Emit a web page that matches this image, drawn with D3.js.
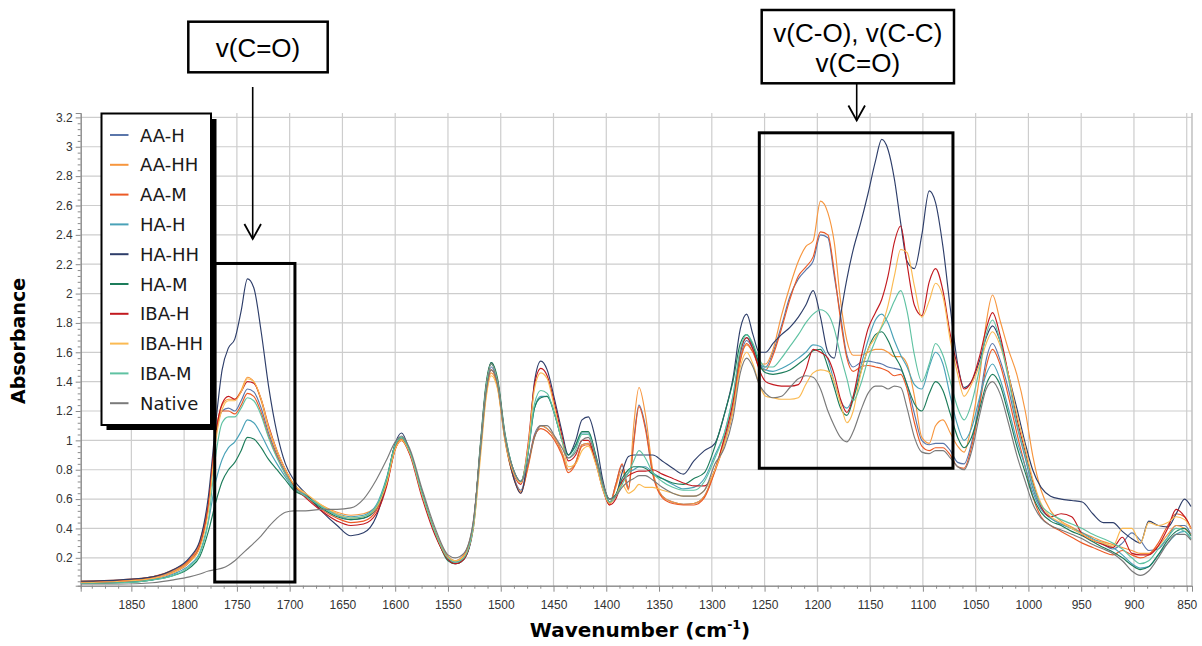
<!DOCTYPE html>
<html><head><meta charset="utf-8">
<script src="https://cdn.jsdelivr.net/npm/d3@7"></script>
<style>body{margin:0;background:#fff;} svg{display:block;}</style>
</head><body><svg id="c" width="1202" height="646"></svg>
<script>
// ---- data (wavenumber grid shared by all spectra) ----
const wavenumbers = [
 1898,1860,1830,1810,1795,1785,1777,1770,1764,1758,1752,1746,1740,1734,1727,1720,1712,1704,1696,
 1685,1670,1655,1642,1630,1618,1608,1600,1594,1586,1575,1562,
 1550,1543,1535,1526,1519,1514,1509,1503,1496,1488,1481,1474,1468,1462,1456,1449,1442,1436,1429,1423,1417,1410,1403,1397,1391,1385,1379,1374,1369,1363,1356,1347,1337,1327,1317,1307,1297,
 1288,1280,1273,1267,1261,1255,1249,
 1242,1234,1226,1218,1211,1204,1197,1190,1184,1178,1172,1166,1159,1152,1145,1139,1133,1127,1121,1115,1108,1101,1094,1088,1081,1074,
 1067,1061,1054,1046,1040,1034,1027,1019,1011,1003,996,988,979,969,959,949,939,929,920,911,902,894,886,877,868,860,852,846
];
const AA_H = [
 .04,.045,.07,.11,.18,.29,.55,1.03,1.20,1.22,1.20,1.27,1.35,1.33,1.22,1.05,.90,.78,.69,
 .63,.55,.49,.46,.47,.53,.71,.95,1.01,.92,.65,.37,
 .21,.18,.22,.44,.96,1.32,1.50,1.38,1.02,.76,.66,.84,1.04,1.10,1.08,1.02,.92,.80,.85,.97,.98,.86,.68,.57,.70,.83,.68,1.00,1.24,1.10,.78,.62,.58,.565,.57,.62,.80,
 1.00,1.22,1.56,1.68,1.62,1.52,1.50,
 1.60,1.78,1.98,2.10,2.16,2.22,2.40,2.38,2.12,1.85,1.58,1.50,1.53,1.54,1.53,1.52,1.50,1.49,1.48,1.38,1.18,1.00,.97,.98,.98,.93,
 .85,.84,.98,1.28,1.55,1.66,1.55,1.35,1.10,.88,.68,.54,.47,.43,.40,.36,.32,.29,.26,.30,.37,.32,.25,.26,.34,.42,.42,.36
];
const AA_HH = [
 .04,.045,.07,.11,.18,.29,.55,1.05,1.24,1.28,1.28,1.34,1.43,1.40,1.27,1.08,.92,.80,.70,
 .63,.56,.51,.49,.50,.55,.72,.95,1.01,.92,.66,.38,
 .21,.18,.22,.44,.95,1.30,1.46,1.36,1.00,.75,.65,.82,1.02,1.10,1.08,1.02,.92,.80,.85,.97,.98,.86,.68,.57,.68,.80,.66,1.10,1.36,1.18,.80,.62,.58,.565,.57,.62,.80,
 1.02,1.25,1.55,1.65,1.60,1.52,1.52,
 1.62,1.85,2.05,2.22,2.32,2.36,2.63,2.55,2.35,1.95,1.68,1.58,1.58,1.60,1.62,1.62,1.60,1.57,1.57,1.52,1.30,1.02,.98,1.10,1.14,1.05,
 .96,.92,1.10,1.45,1.80,1.99,1.82,1.62,1.45,1.20,.90,.66,.52,.45,.41,.37,.34,.31,.29,.27,.25,.23,.23,.28,.36,.42,.40,.36
];
const AA_M = [
 .04,.05,.07,.12,.19,.31,.58,1.05,1.20,1.20,1.18,1.24,1.32,1.30,1.19,1.03,.89,.77,.68,
 .62,.53,.47,.44,.45,.52,.70,.94,1.00,.91,.64,.36,
 .20,.17,.21,.43,.96,1.32,1.48,1.37,1.01,.75,.64,.83,1.03,1.08,1.06,1.00,.90,.78,.84,.96,.97,.85,.67,.56,.70,.84,.67,.98,1.23,1.08,.77,.61,.57,.56,.56,.61,.79,
 .98,1.20,1.54,1.66,1.60,1.50,1.48,
 1.58,1.76,1.96,2.12,2.18,2.25,2.42,2.40,2.15,1.82,1.56,1.47,1.50,1.51,1.50,1.49,1.47,1.44,1.45,1.35,1.12,.96,.93,.95,.95,.90,
 .82,.81,.95,1.25,1.50,1.62,1.52,1.30,1.05,.82,.62,.48,.42,.38,.34,.30,.27,.24,.22,.25,.22,.20,.22,.30,.42,.50,.48,.40
];
const HA_H = [
 .03,.035,.05,.09,.15,.24,.45,.72,.87,.95,.99,1.06,1.14,1.12,1.04,.94,.84,.75,.67,
 .63,.55,.50,.48,.49,.56,.75,.97,1.02,.92,.65,.37,
 .19,.17,.20,.42,.98,1.36,1.52,1.40,1.04,.80,.72,.92,1.22,1.30,1.30,1.18,1.00,.90,.96,1.05,1.05,.90,.70,.60,.63,.72,.78,.80,.82,.82,.78,.74,.70,.67,.68,.74,.90,
 1.05,1.30,1.60,1.70,1.64,1.52,1.48,
 1.47,1.49,1.52,1.56,1.60,1.65,1.64,1.55,1.40,1.27,1.22,1.30,1.50,1.68,1.82,1.86,1.80,1.68,1.58,1.50,1.38,1.35,1.50,1.60,1.52,1.30,
 1.10,1.00,1.08,1.30,1.45,1.52,1.42,1.22,1.00,.82,.65,.53,.47,.43,.40,.37,.33,.30,.27,.22,.16,.13,.14,.22,.30,.36,.38,.33
];
const HA_HH = [
 .04,.05,.07,.12,.20,.32,.62,1.12,1.48,1.63,1.69,1.88,2.10,2.04,1.74,1.37,1.05,.84,.73,
 .64,.52,.42,.35,.37,.48,.72,.98,1.05,.92,.65,.36,
 .19,.16,.19,.40,.95,1.35,1.53,1.40,1.02,.75,.64,.92,1.40,1.54,1.48,1.28,1.06,.90,1.00,1.14,1.16,1.00,.72,.58,.62,.78,.89,.90,.90,.90,.90,.86,.81,.77,.86,.93,.98,
 1.18,1.42,1.76,1.86,1.72,1.60,1.60,
 1.66,1.72,1.77,1.84,1.92,2.02,1.84,1.60,1.56,1.85,2.10,2.30,2.48,2.68,2.90,3.05,2.98,2.78,2.48,2.22,2.17,2.40,2.70,2.62,2.32,1.90,
 1.52,1.36,1.40,1.55,1.70,1.78,1.68,1.45,1.22,.98,.80,.68,.62,.60,.59,.58,.50,.44,.44,.38,.33,.30,.45,.42,.41,.50,.60,.55
];
const HA_M = [
 .025,.03,.05,.08,.13,.21,.38,.58,.72,.80,.85,.93,1.02,1.01,.95,.87,.80,.73,.66,
 .62,.54,.48,.46,.47,.54,.74,.97,1.02,.92,.65,.37,
 .18,.16,.19,.42,1.00,1.38,1.53,1.42,1.05,.80,.72,.93,1.22,1.29,1.30,1.18,1.00,.90,.97,1.06,1.06,.90,.70,.60,.63,.74,.80,.82,.82,.81,.77,.74,.71,.70,.74,.78,.96,
 1.18,1.40,1.66,1.72,1.65,1.52,1.46,
 1.45,1.46,1.48,1.52,1.56,1.61,1.62,1.50,1.36,1.22,1.17,1.28,1.46,1.62,1.72,1.74,1.68,1.58,1.50,1.38,1.25,1.20,1.32,1.40,1.34,1.18,
 1.02,.95,1.02,1.22,1.38,1.45,1.38,1.18,.96,.78,.62,.51,.45,.42,.38,.35,.31,.27,.24,.20,.15,.12,.14,.22,.32,.38,.40,.35
];
const IBA_H = [
 .03,.04,.06,.10,.17,.28,.55,1.05,1.25,1.30,1.28,1.33,1.40,1.39,1.28,1.10,.93,.80,.69,
 .61,.52,.45,.42,.43,.50,.69,.94,1.00,.90,.62,.35,
 .19,.16,.19,.42,.98,1.36,1.52,1.40,1.03,.78,.70,.98,1.38,1.49,1.44,1.25,1.03,.86,.90,1.00,1.00,.85,.66,.56,.60,.72,.76,.78,.79,.79,.80,.77,.74,.71,.69,.69,.80,
 1.02,1.26,1.60,1.70,1.62,1.48,1.40,
 1.38,1.37,1.37,1.38,1.48,1.62,1.60,1.56,1.45,1.28,1.19,1.30,1.55,1.76,1.87,1.96,2.12,2.35,2.46,2.20,1.92,1.85,2.08,2.17,2.02,1.72,
 1.50,1.35,1.40,1.58,1.76,1.87,1.72,1.45,1.15,.92,.72,.55,.48,.50,.48,.36,.32,.29,.27,.34,.23,.22,.22,.28,.40,.53,.48,.40
];
const IBA_HH = [
 .03,.04,.06,.10,.17,.27,.52,1.00,1.21,1.27,1.27,1.33,1.42,1.40,1.28,1.09,.93,.80,.70,
 .64,.56,.50,.47,.48,.54,.71,.94,1.00,.91,.64,.37,
 .20,.18,.21,.40,.90,1.28,1.44,1.35,1.00,.78,.71,.96,1.35,1.46,1.42,1.22,1.00,.82,.84,.93,.96,.84,.66,.57,.62,.70,.64,.66,.70,.68,.68,.66,.64,.62,.62,.66,.80,
 .98,1.20,1.50,1.60,1.52,1.38,1.30,
 1.29,1.28,1.28,1.29,1.38,1.46,1.48,1.47,1.40,1.25,1.12,1.20,1.45,1.62,1.70,1.78,1.92,2.12,2.30,2.28,2.05,1.84,1.95,2.07,1.98,1.68,
 1.45,1.30,1.38,1.52,1.66,1.74,1.65,1.45,1.18,.95,.74,.57,.48,.44,.40,.36,.32,.30,.28,.40,.40,.30,.44,.42,.44,.48,.46,.40
];
const IBA_M = [
 .025,.03,.05,.08,.14,.23,.45,.90,1.12,1.16,1.16,1.22,1.29,1.27,1.17,1.02,.88,.77,.68,
 .62,.55,.49,.47,.48,.55,.74,.97,1.02,.92,.65,.37,
 .20,.17,.20,.42,.98,1.36,1.52,1.40,1.04,.80,.72,.92,1.25,1.34,1.32,1.18,1.00,.88,.94,1.04,1.04,.88,.68,.58,.62,.70,.78,.86,.93,.88,.78,.72,.68,.66,.66,.72,.88,
 1.05,1.30,1.62,1.72,1.66,1.55,1.50,
 1.50,1.56,1.64,1.72,1.80,1.86,1.89,1.86,1.76,1.58,1.42,1.27,1.38,1.55,1.68,1.77,1.85,1.95,2.02,1.88,1.58,1.40,1.52,1.66,1.58,1.40,
 1.22,1.14,1.25,1.50,1.72,1.82,1.68,1.42,1.12,.90,.70,.56,.50,.46,.43,.40,.36,.33,.30,.26,.20,.16,.18,.26,.34,.40,.38,.33
];
const NATIVE = [
 .02,.02,.03,.05,.07,.09,.11,.12,.13,.15,.18,.22,.26,.30,.35,.41,.47,.51,.52,
 .52,.53,.53,.54,.60,.73,.87,.99,1.03,.94,.68,.40,
 .22,.20,.23,.45,.95,1.32,1.48,1.38,1.02,.80,.72,.85,1.02,1.10,1.10,1.03,.95,.88,.92,1.00,1.02,.88,.70,.60,.62,.68,.72,.74,.76,.76,.73,.68,.64,.62,.62,.66,.84,
 .95,1.15,1.46,1.56,1.50,1.38,1.32,
 1.29,1.30,1.36,1.42,1.44,1.43,1.35,1.20,1.10,1.02,.99,1.06,1.20,1.32,1.37,1.37,1.35,1.37,1.36,1.22,1.02,.92,.91,.93,.93,.88,
 .82,.80,.92,1.18,1.35,1.40,1.32,1.12,.90,.72,.57,.47,.42,.39,.36,.33,.29,.26,.23,.18,.11,.08,.11,.20,.30,.36,.36,.32
];
const seriesNames  = ["AA-H","AA-HH","AA-M","HA-H","HA-HH","HA-M","IBA-H","IBA-HH","IBA-M","Native"];
const seriesValues = [AA_H, AA_HH, AA_M, HA_H, HA_HH, HA_M, IBA_H, IBA_HH, IBA_M, NATIVE];
const seriesColors = ["#5a76aa","#f7963e","#ec5a26","#4aa2b8","#2e3e6a","#1c7c5a","#c2191f","#fbba52","#5fc2a2","#7a7a7a"];
const xTickValues = [1850,1800,1750,1700,1650,1600,1550,1500,1450,1400,1350,1300,1250,1200,1150,1100,1050,1000,950,900,850];
const yTickValues = [0.2,0.4,0.6,0.8,1,1.2,1.4,1.6,1.8,2,2.2,2.4,2.6,2.8,3,3.2];
// highlighted regions: [wavenumber from, wavenumber to, absorbance low, absorbance high]
const regions = [[1771,1695,0.035,2.205],[1255,1071.5,0.81,3.095]];
const regionLabels = [["v(C=O)"],["v(C-O), v(C-C)","v(C=O)"]];

seriesValues.forEach((s,i)=>{ if(s.length!==wavenumbers.length) throw new Error(seriesNames[i]+" length "+s.length+" vs "+wavenumbers.length); });

// ---- chart ----
const svg = d3.select("#c");
const L=80.7, R=1192, T=113, B=585.7;
const x = d3.scaleLinear().domain([1898,845]).range([L,R]);
const y = d3.scaleLinear().domain([0.01,3.23]).range([B,T]);
const gridCol="#cdcdcd";

const grid = svg.append("g");
grid.selectAll("line.v").data(xTickValues).join("line")
  .attr("x1",d=>x(d)).attr("x2",d=>x(d)).attr("y1",T).attr("y2",B)
  .attr("stroke",gridCol).attr("stroke-width",1.2);
grid.selectAll("line.h").data(yTickValues).join("line")
  .attr("x1",L).attr("x2",R).attr("y1",d=>y(d)).attr("y2",d=>y(d))
  .attr("stroke",gridCol).attr("stroke-width",1.2);
grid.append("line").attr("x1",R).attr("x2",R).attr("y1",T).attr("y2",B).attr("stroke","#c4c4c4").attr("stroke-width",1.6);

// axes
const xMinor = d3.range(1887.5, 845, -12.5).filter(v=>!xTickValues.includes(v));
const gx = svg.append("g").attr("transform",`translate(0,${B})`);
gx.call(d3.axisBottom(x).tickValues(xTickValues).tickSize(6).tickPadding(9).tickFormat(d3.format("d")));
gx.append("g").call(d3.axisBottom(x).tickValues(xMinor).tickSize(3).tickFormat(""));
gx.selectAll(".domain").attr("stroke","#8a8a8a");
gx.selectAll("line").attr("stroke","#8a8a8a");
gx.selectAll("text").attr("font-family","'Liberation Sans',Arial,sans-serif").attr("font-size","12px").attr("fill","#333");

const yMinor = d3.range(0.04,3.23,0.04).map(v=>+v.toFixed(2)).filter(v=>Math.abs(v/0.2-Math.round(v/0.2))>1e-6);
const gy = svg.append("g").attr("transform",`translate(${L},0)`);
gy.call(d3.axisLeft(y).tickValues(yTickValues).tickSize(5).tickPadding(3).tickFormat(d=>d3.format("")(d)));
gy.append("g").call(d3.axisLeft(y).tickValues(yMinor).tickSize(3).tickFormat(""));
gy.selectAll(".domain").attr("stroke","#8a8a8a");
gy.selectAll("line").attr("stroke","#8a8a8a");
gy.selectAll("text").attr("font-family","'Liberation Sans',Arial,sans-serif").attr("font-size","12px").attr("fill","#333");

// spectra
svg.append("clipPath").attr("id","clip").append("rect").attr("x",L).attr("y",T-2).attr("width",R-L).attr("height",B-T+1);
const line = d3.line().x(d=>x(d[0])).y(d=>y(d[1])).curve(d3.curveMonotoneX);
const gl = svg.append("g").attr("clip-path","url(#clip)");
seriesValues.forEach((s,i)=>{
  gl.append("path").datum(wavenumbers.map((w,k)=>[w,s[k]]))
    .attr("d",line).attr("fill","none").attr("stroke",seriesColors[i]).attr("stroke-width",1.15);
});

// axis titles
svg.append("text").attr("x",640).attr("y",637).attr("text-anchor","middle")
  .attr("font-family","'DejaVu Sans',Verdana,sans-serif").attr("font-weight","bold").attr("font-size","20px").attr("fill","#000")
  .call(t=>{ t.append("tspan").text("Wavenumber (cm");
             t.append("tspan").attr("font-size","12.5px").attr("dy","-8").text("-1");
             t.append("tspan").attr("dy","8").text(")"); });
svg.append("text").attr("transform","translate(25,341) rotate(-90)").attr("text-anchor","middle")
  .attr("font-family","'DejaVu Sans',Verdana,sans-serif").attr("font-weight","bold").attr("font-size","19px").attr("fill","#000")
  .text("Absorbance");

// highlighted regions
regions.forEach(r=>{
  svg.append("rect").attr("x",x(r[0])).attr("y",y(r[3])).attr("width",x(r[1])-x(r[0])).attr("height",y(r[2])-y(r[3]))
    .attr("fill","none").attr("stroke","#000").attr("stroke-width",3);
});

// annotation label boxes with arrows
const ann = [
  {box:[188.3,21.7,139.4,50.6], lines:regionLabels[0], base:[57], ax:252.7, ay1:87, ay2:239},
  {box:[761.7,10,192.3,73.3], lines:regionLabels[1], base:[42,72], ax:856.7, ay1:84, ay2:120.5}
];
ann.forEach(a=>{
  svg.append("rect").attr("x",a.box[0]).attr("y",a.box[1]).attr("width",a.box[2]).attr("height",a.box[3])
    .attr("fill","#fff").attr("stroke","#000").attr("stroke-width",2.5);
  a.lines.forEach((t,i)=>svg.append("text").attr("x",a.box[0]+a.box[2]/2).attr("y",a.base[i]).attr("text-anchor","middle")
    .attr("font-family","'Liberation Sans',Arial,sans-serif").attr("font-size","26px").attr("fill","#000").text(t));
  svg.append("line").attr("x1",a.ax).attr("x2",a.ax).attr("y1",a.ay1).attr("y2",a.ay2).attr("stroke","#000").attr("stroke-width",1.6);
  svg.append("path").attr("d",`M${a.ax-8.3},${a.ay2-15}L${a.ax},${a.ay2}L${a.ax+8.3},${a.ay2-15}`)
    .attr("fill","none").attr("stroke","#000").attr("stroke-width",1.8);
});

// legend
const lg = svg.append("g");
lg.append("rect").attr("x",106.5).attr("y",119).attr("width",110).attr("height",311).attr("fill","#000");
lg.append("rect").attr("x",101.5).attr("y",113.5).attr("width",109.5).attr("height",311.5).attr("fill","#fff").attr("stroke","#000").attr("stroke-width",2);
seriesNames.forEach((n,i)=>{
  const cy = 135 + i*29.8;
  lg.append("line").attr("x1",110).attr("x2",128.5).attr("y1",cy).attr("y2",cy).attr("stroke",seriesColors[i]).attr("stroke-width",2);
  lg.append("text").attr("x",140).attr("y",cy+6.5).attr("font-family","'DejaVu Sans',Verdana,sans-serif").attr("font-size","18px").attr("fill","#1a1a1a").text(n);
});
</script>
</body></html>
